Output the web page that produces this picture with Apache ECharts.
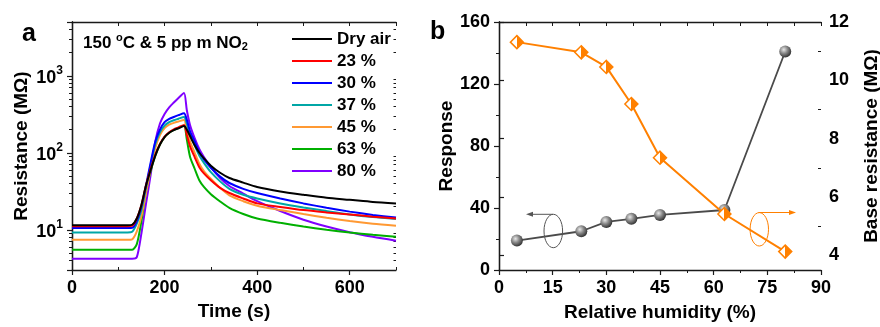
<!DOCTYPE html>
<html>
<head>
<meta charset="utf-8">
<script src="https://cdn.jsdelivr.net/npm/echarts@6/dist/echarts.min.js"></script>
<style>
  html, body { margin: 0; padding: 0; background: #fff; }
  #chart { width: 880px; height: 327px; }
</style>
</head>
<body>
<div id="chart"></div>
<script>
// Panel a: resistance transients (time in s, resistance in MOhm)
const timeS = [0, 120, 130, 140, 150, 160, 170, 180, 190, 200, 210, 220, 230, 242,
  248, 255, 265, 275, 285, 300, 320, 340, 370, 400, 450, 500, 550, 600, 650, 700];
const dryAir = [11.4, 11.4, 11.6, 14, 21, 38, 60, 92, 128, 160, 182, 197, 208, 222,
  200, 165, 125, 100, 85, 68, 55, 47, 41, 36, 31.5, 28.5, 26, 24.5, 23, 22];
const rh23 = [11.1, 11.1, 11.3, 14, 21, 38, 62, 95, 130, 162, 185, 202, 214, 230,
  170, 121, 88, 65, 54, 44, 35, 30, 25.5, 22, 19.8, 18, 16.8, 15.8, 14.8, 14];
const rh30 = [10.5, 10.5, 10.6, 13, 20, 38, 75, 140, 200, 250, 275, 292, 308, 327,
  270, 190, 140, 102, 82, 64, 49, 40.5, 34, 30, 25.5, 22, 19.3, 17.2, 15.6, 14.4];
const rh37 = [9.2, 9.2, 9.4, 12, 18, 35, 70, 130, 185, 225, 250, 265, 277, 292,
  240, 171, 125, 92, 74, 56, 42.5, 34, 28.5, 25.5, 22, 19.5, 17.5, 15.8, 14.6, 13.8];
const rh45 = [7.4, 7.4, 7.5, 9.5, 15, 30, 62, 115, 170, 210, 232, 245, 255, 266,
  195, 141, 100, 72, 58, 46, 35, 28, 23.5, 20.5, 18, 16, 14.3, 13, 12, 11.3];
const rh63 = [5.5, 5.5, 5.5, 6.5, 13, 32, 58, 92, 128, 160, 182, 198, 210, 224,
  150, 89, 62, 44, 36, 29, 23.3, 19.2, 16, 14, 12.3, 11, 10, 9.2, 8.6, 8.1];
const rh80 = [4.2, 4.2, 4.2, 4.4, 9, 22, 52, 140, 240, 320, 390, 450, 515, 596,
  360, 230, 155, 112, 88, 65, 47, 37, 29.5, 23.5, 17.5, 13.5, 11, 9.3, 8.1, 7.2];

const seriesNames = ['Dry air', '23 %', '30 %', '37 %', '45 %', '63 %', '80 %'];
const seriesValues = [dryAir, rh23, rh30, rh37, rh45, rh63, rh80];
const seriesColors = ['#000000', '#ff0000', '#0000ff', '#00a6a6', '#ff9933', '#00b000', '#8000ff'];

// axis tick values
const timeMajor = [0, 200, 400, 600];
const timeMinor = [100, 300, 500, 700];
const logMajor = [10, 100, 1000];
const logMinor = [4, 5, 6, 7, 8, 9, 20, 30, 40, 50, 60, 70, 80, 90,
  200, 300, 400, 500, 600, 700, 800, 900, 2000, 3000, 4000];
const LOG_MIN = 3, LOG_MAX = 5000;

// Panel b: humidity dependence
const humidity = [5, 23, 30, 37, 45, 63, 80];
const response = [19, 25, 31, 33, 35.5, 38.7, 141];
const baseResistance = [11.31, 10.96, 10.46, 9.19, 7.35, 5.42, 4.13];
const rightMajor = [4, 6, 8, 10, 12];
const rightMinor = [5, 7, 9, 11];

const FONT = 'Liberation Sans';
const AX = '#1a1a1a';
const ORANGE = '#ff8000';

const chart = echarts.init(document.getElementById('chart'), null, { renderer: 'canvas' });

const labelStyle = { fontFamily: FONT, fontWeight: 'bold', fontSize: 18, color: '#000' };
const nameStyle = { fontFamily: FONT, fontWeight: 'bold', fontSize: 19, color: '#000' };

// axis that only draws ticks (for mirrored frame / minor ticks)
function tickAxis(extra) {
  return Object.assign({
    type: 'value',
    axisLine: { show: false },
    axisLabel: { show: false },
    splitLine: { show: false },
    axisTick: { show: true, inside: false, length: 3, lineStyle: { color: AX, width: 1 } },
  }, extra);
}

const log10 = (v) => Math.log10(v);

const xAxes = [
  // 0: panel a bottom
  {
    type: 'value', gridIndex: 0, position: 'bottom', min: 0, max: 700, interval: 100,
    name: 'Time (s)', nameLocation: 'middle', nameGap: 31, nameTextStyle: nameStyle,
    axisLine: { lineStyle: { color: AX, width: 1.3 } },
    axisTick: { length: 5, customValues: timeMajor, lineStyle: { color: AX, width: 1.2 } },
    axisLabel: Object.assign({ margin: 9, customValues: timeMajor }, labelStyle),
    splitLine: { show: false },
  },
  // 1: panel a bottom minor ticks
  tickAxis({ gridIndex: 0, position: 'bottom', min: 0, max: 700,
    axisTick: { show: true, inside: true, length: 3, customValues: timeMinor, lineStyle: { color: AX, width: 1 } } }),
  // 2: panel a top frame
  tickAxis({ gridIndex: 0, position: 'top', min: 0, max: 700, interval: 100,
    axisLine: { show: true, lineStyle: { color: AX, width: 1.3 } },
    axisTick: { show: true, inside: true, length: 4, lineStyle: { color: AX, width: 1 } } }),
  // 3: panel b bottom
  {
    type: 'value', gridIndex: 1, position: 'bottom', min: 0, max: 90, interval: 15,
    name: 'Relative humidity (%)', nameLocation: 'middle', nameGap: 33, nameTextStyle: nameStyle,
    axisLine: { lineStyle: { color: AX, width: 1.3 } },
    axisTick: { length: 5, lineStyle: { color: AX, width: 1.2 } },
    minorTick: { show: true, splitNumber: 2, length: 3, lineStyle: { color: AX, width: 1 } },
    axisLabel: Object.assign({ margin: 9 }, labelStyle),
    splitLine: { show: false },
  },
  // 4: panel b top frame
  tickAxis({ gridIndex: 1, position: 'top', min: 0, max: 90, interval: 7.5,
    axisLine: { show: true, lineStyle: { color: AX, width: 1.3 } },
    axisTick: { show: true, inside: true, length: 4, lineStyle: { color: AX, width: 1 } } }),
];

const yAxes = [
  // 0: panel a log axis
  {
    type: 'log', logBase: 10, gridIndex: 0, position: 'left', min: LOG_MIN, max: LOG_MAX,
    name: 'Resistance (M\u03A9)', nameLocation: 'middle', nameGap: 41, nameTextStyle: nameStyle,
    axisLine: { lineStyle: { color: AX, width: 1.3 } },
    axisTick: { length: 5, lineStyle: { color: AX, width: 1.2 } },
    axisLabel: {
      margin: 9,
      formatter: (v) => {
        const e = Math.round(log10(v));
        if (Math.abs(Math.pow(10, e) - v) > 1e-6 * v) return '';
        return '{b|10}{s|' + e + '}';
      },
      rich: {
        b: { fontFamily: FONT, fontWeight: 'bold', fontSize: 18, color: '#000', verticalAlign: 'bottom', lineHeight: 22 },
        s: { fontFamily: FONT, fontWeight: 'bold', fontSize: 12, color: '#000', verticalAlign: 'top', lineHeight: 14 },
      },
    },
    splitLine: { show: false },
  },
  // 1: panel a minor log ticks (log10 space)
  tickAxis({ gridIndex: 0, position: 'left', min: log10(LOG_MIN), max: log10(LOG_MAX),
    axisTick: { show: true, inside: false, length: 3, customValues: logMinor.map(log10), lineStyle: { color: AX, width: 1 } } }),
  // 2: panel a right frame
  tickAxis({ gridIndex: 0, position: 'right', min: log10(LOG_MIN), max: log10(LOG_MAX),
    axisLine: { show: true, lineStyle: { color: AX, width: 1.3 } },
    axisTick: { show: true, inside: true, length: 4, customValues: logMajor.map(log10), lineStyle: { color: AX, width: 1 } } }),
  // 3: panel a right minor ticks
  tickAxis({ gridIndex: 0, position: 'right', min: log10(LOG_MIN), max: log10(LOG_MAX),
    axisTick: { show: true, inside: true, length: 2.5, customValues: logMinor.map(log10), lineStyle: { color: AX, width: 1 } } }),
  // 4: panel b left response
  {
    type: 'value', gridIndex: 1, position: 'left', min: 0, max: 160, interval: 40,
    name: 'Response', nameLocation: 'middle', nameGap: 43, nameTextStyle: nameStyle,
    axisLine: { lineStyle: { color: AX, width: 1.3 } },
    axisTick: { length: 5, lineStyle: { color: AX, width: 1.2 } },
    minorTick: { show: true, splitNumber: 2, length: 3, lineStyle: { color: AX, width: 1 } },
    axisLabel: Object.assign({ margin: 9 }, labelStyle),
    splitLine: { show: false },
  },
  // 5: panel b right base resistance
  {
    type: 'value', gridIndex: 1, position: 'right', min: 3.5, max: 12, interval: 0.5,
    name: 'Base resistance (M\u03A9)', nameLocation: 'middle', nameGap: 41, nameTextStyle: nameStyle,
    axisLine: { lineStyle: { color: AX, width: 1.3 } },
    axisTick: { length: 5, customValues: rightMajor, lineStyle: { color: AX, width: 1.2 } },
    axisLabel: Object.assign({ margin: 8, customValues: rightMajor }, labelStyle),
    splitLine: { show: false },
  },
  // 6: panel b right minor ticks
  tickAxis({ gridIndex: 1, position: 'right', min: 3.5, max: 12,
    axisTick: { show: true, inside: true, length: 3, customValues: rightMinor, lineStyle: { color: AX, width: 1 } } }),
];

const seriesA = seriesNames.map((name, k) => ({
  type: 'line', name: name, xAxisIndex: 0, yAxisIndex: 0,
  data: timeS.map((t, i) => [t, seriesValues[k][i]]),
  symbol: 'none', smooth: 0.25,
  lineStyle: { color: seriesColors[k], width: 2 },
  itemStyle: { color: seriesColors[k] },
  z: 10 - k,
}));

const sphere = {
  type: 'radial', x: 0.38, y: 0.35, r: 0.7,
  colorStops: [{ offset: 0, color: '#e8e8e8' }, { offset: 0.45, color: '#8a8a8a' }, { offset: 1, color: '#2a2a2a' }],
};
const halfDiamond = {
  type: 'linear', x: 0, y: 0, x2: 1, y2: 0,
  colorStops: [{ offset: 0, color: '#fff' }, { offset: 0.5, color: '#fff' }, { offset: 0.5, color: ORANGE }, { offset: 1, color: ORANGE }],
};

const seriesB = [
  {
    type: 'line', name: 'Response', xAxisIndex: 3, yAxisIndex: 4,
    data: humidity.map((h, i) => [h, response[i]]),
    symbol: 'circle', symbolSize: 12,
    lineStyle: { color: '#4a4a4a', width: 1.8 },
    itemStyle: { color: sphere, borderWidth: 0 },
    z: 5,
  },
  {
    type: 'line', name: 'Base resistance', xAxisIndex: 3, yAxisIndex: 5,
    data: humidity.map((h, i) => [h, baseResistance[i]]),
    symbol: 'diamond', symbolSize: 13,
    lineStyle: { color: ORANGE, width: 2 },
    itemStyle: { color: halfDiamond, borderColor: ORANGE, borderWidth: 1.5 },
    z: 6,
  },
];

const textBold = (text, x, y, size) => ({
  type: 'text', x: x, y: y, silent: true,
  style: { text: text, fontFamily: FONT, fontWeight: 'bold', fontSize: size, fill: '#000' },
});

chart.setOption({
  animation: false,
  backgroundColor: '#fff',
  textStyle: { fontFamily: FONT },
  grid: [
    { left: 72, top: 22, width: 324, height: 248, outerBoundsMode: 'none', containLabel: false },
    { left: 499, top: 22, width: 322, height: 248, outerBoundsMode: 'none', containLabel: false },
  ],
  legend: {
    data: seriesNames,
    orient: 'vertical', left: 292, top: 30, padding: 0,
    icon: 'rect', itemWidth: 40, itemHeight: 2.2, itemGap: 4,
    textStyle: { fontFamily: FONT, fontWeight: 'bold', fontSize: 17, color: '#000', lineHeight: 18 },
    selectedMode: false,
  },
  xAxis: xAxes,
  yAxis: yAxes,
  series: seriesA.concat(seriesB),
  graphic: [
    textBold('a', 22, 22, 25),
    textBold('b', 430, 20, 25),
    {
      type: 'text', x: 83, y: 32, silent: true,
      style: {
        text: '{t|150 }{u|o}{t|C & 5 pp m NO}{d|2}',
        rich: {
          t: { fontFamily: FONT, fontWeight: 'bold', fontSize: 17, fill: '#000', verticalAlign: 'bottom', lineHeight: 20 },
          u: { fontFamily: FONT, fontWeight: 'bold', fontSize: 11, fill: '#000', verticalAlign: 'top', lineHeight: 12 },
          d: { fontFamily: FONT, fontWeight: 'bold', fontSize: 11, fill: '#000', verticalAlign: 'bottom', lineHeight: 8 },
        },
      },
    },
    // gray ellipse + arrow (response, left axis)
    { type: 'ellipse', shape: { cx: 553.3, cy: 231, rx: 9.3, ry: 16.7 }, style: { fill: 'none', stroke: '#555', lineWidth: 1 }, z: 100 },
    { type: 'line', shape: { x1: 553, y1: 214.3, x2: 531, y2: 214.3 }, style: { stroke: '#555', lineWidth: 1 }, z: 100 },
    { type: 'polygon', shape: { points: [[526, 214.3], [533, 211.8], [533, 216.8]] }, style: { fill: '#555' }, z: 100 },
    // orange ellipse + arrow (base resistance, right axis)
    { type: 'ellipse', shape: { cx: 759.3, cy: 229.3, rx: 9.2, ry: 16.7 }, style: { fill: 'none', stroke: ORANGE, lineWidth: 1 }, z: 100 },
    { type: 'line', shape: { x1: 758.5, y1: 212.5, x2: 791, y2: 212.5 }, style: { stroke: ORANGE, lineWidth: 1 }, z: 100 },
    { type: 'polygon', shape: { points: [[796, 212.5], [789, 210], [789, 215]] }, style: { fill: ORANGE }, z: 100 },
  ],
});
</script>
</body>
</html>
